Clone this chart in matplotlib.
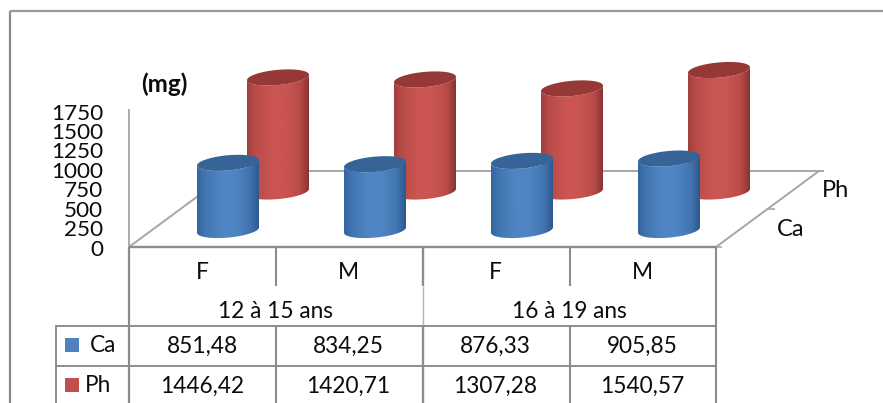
import numpy as np
import matplotlib
matplotlib.use("Agg")
import matplotlib.pyplot as plt
from matplotlib.colors import LinearSegmentedColormap
from matplotlib.patches import Polygon

plt.rcParams["font.family"] = ["Lato", "DejaVu Sans"]

# Data
age_groups = ["12 à 15 ans", "16 à 19 ans"]
sexes = ["F", "M", "F", "M"]
ca_values = [851.48, 834.25, 876.33, 905.85]
ph_values = [1446.42, 1420.71, 1307.28, 1540.57]
ca_labels = ["851,48", "834,25", "876,33", "905,85"]
ph_labels = ["1446,42", "1420,71", "1307,28", "1540,57"]
y_ticks = [0, 250, 500, 750, 1000, 1250, 1500, 1750]

W, H = 883, 403
LINE = "#8c8c8c"
TEXT = "#0c0c0c"

fig = plt.figure(figsize=(W / 100, H / 100), dpi=100, facecolor="white")
ax = fig.add_axes([0, 0, 1, 1])
ax.set_xlim(0, W)
ax.set_ylim(H, 0)
ax.axis("off")

# Vertical scale of the 3D box
Y0, Y_TOP = 247.0, 109.0
PX_PER_MG = (Y0 - Y_TOP) / 1750.0


def line(xs, ys, lw=1.45, color=LINE, z=2):
    ax.plot(xs, ys, color=color, lw=lw, solid_capstyle="butt", zorder=z)


def label(x, y, s, size=16.3, **kw):
    ax.text(x, y, s, fontsize=size, color=TEXT, ha=kw.pop("ha", "center"),
            va="center", **kw)


def ellipse_xy(cx, cy, t, a=31.0, b=7.6, k=2.7):
    return cx + a * np.cos(t), cy + b * np.sin(t) - k * np.cos(t)


def cylinder(cx, base_y, value, left, mid, light, right, top_color, z):
    top_y = base_y - value * PX_PER_MG
    # Body outline: front half of the bottom rim and of the top rim
    t_bottom = np.linspace(0, np.pi, 60)
    bx, by = ellipse_xy(cx, base_y, t_bottom)
    tx, ty = ellipse_xy(cx, top_y, t_bottom[::-1])
    body = np.column_stack([np.r_[bx, tx], np.r_[by, ty]])
    clip = Polygon(body, closed=True, transform=ax.transData, fc="none", ec="none")
    ax.add_patch(clip)
    cmap = LinearSegmentedColormap.from_list(
        "shade", [(0, left), (0.12, mid), (0.38, light), (0.62, light),
                  (0.86, mid), (1, right)])
    img = ax.imshow(np.linspace(0, 1, 128)[None, :], cmap=cmap, aspect="auto",
                    extent=(cx - 31, cx + 31, base_y + 12, top_y - 12),
                    zorder=z, interpolation="bilinear")
    img.set_clip_path(clip)
    # Top cap
    t = np.linspace(0, 2 * np.pi, 120)
    ex, ey = ellipse_xy(cx, top_y, t)
    ax.fill(ex, ey, color=top_color, lw=0, zorder=z + 0.1)


# Outer chart frame
line([9.5, 9.5], [10.5, H], lw=1.6, color="#8a8a8a")
line([9.5, W], [10.5, 10.5], lw=1.6, color="#9a9a9a")

# Floor and axes of the 3D box
line([129, 129], [Y_TOP, Y0], lw=1.3, color="#a6a6a6")
line([129, 232], [Y0, 171], lw=1.4, color="#a6a6a6")
line([232, 824], [171, 171], lw=1.4, color="#a6a6a6")
line([716, 819], [Y0, 171], lw=1.4, color="#a6a6a6")
line([767, 775], [208.5, 208.5], lw=1.2, color="#a6a6a6")
line([716, 722], [Y0, Y0], lw=1.2, color="#a6a6a6")

# Value-axis labels
for v in y_ticks:
    ax.text(103, Y0 + 2.5 - v * PX_PER_MG * 0.985, str(v), fontsize=16.2, color=TEXT,
            ha="right", va="center")
ax.text(164.5, 84, "(mg)", fontsize=17.5, fontweight="bold", color=TEXT,
        ha="center", va="center")

# Series cylinders, rear row first
ph_centers = [278 + 147 * i for i in range(4)]
ca_centers = [228 + 147 * i for i in range(4)]
for cx, v in zip(ph_centers, ph_values):
    cylinder(cx, 191.5, v, "#a23f3d", "#b84b48", "#ca5552", "#883331", "#963836", 4)
for cx, v in zip(ca_centers, ca_values):
    cylinder(cx, 230.0, v, "#33659f", "#4174b0", "#4f85c4", "#2c5a8e", "#376496", 6)

# Series labels on the depth axis
label(836, 190.5, "Ph", size=17)
label(791, 229.5, "Ca", size=17)

# Data table grid
line([129, 716], [Y0, Y0], lw=1.7)
line([56, 716], [325.5, 325.5], lw=1.4)
line([56, 716], [365.5, 365.5], lw=1.4)
line([56, 56], [325, H], lw=1.4)
line([129, 129], [Y0, H], lw=1.6)
line([716, 716], [Y0, H], lw=1.5)
line([423, 423], [Y0, 286], lw=1.7)
line([423, 423], [286, 325], lw=1.0, color="#b4b4b4")
line([423, 423], [325, H], lw=1.7)
for x in (276, 570):
    line([x, x], [Y0, 286], lw=1.5)
    line([x, x], [325, H], lw=1.5)

centers = [202, 348, 495, 642]
for x, s in zip(centers, sexes):
    label(x, 272.5, s)
label(276, 312, age_groups[0])
label(569, 312, age_groups[1])
for x, s in zip(centers, ca_labels):
    label(x, 346, s)
for x, s in zip(centers, ph_labels):
    label(x, 386, s)

# Legend keys in the table
ax.fill([65, 79, 79, 65], [338, 338, 352, 352], color="#4f81bd", lw=0)
ax.fill([65, 79, 79, 65], [378, 378, 392, 392], color="#c0504d", lw=0)
label(103.5, 345.5, "Ca")
label(98, 385.5, "Ph")

ax.set_xlim(0, W)
ax.set_ylim(H, 0)
fig.savefig("out.png", dpi=100, facecolor="white")
